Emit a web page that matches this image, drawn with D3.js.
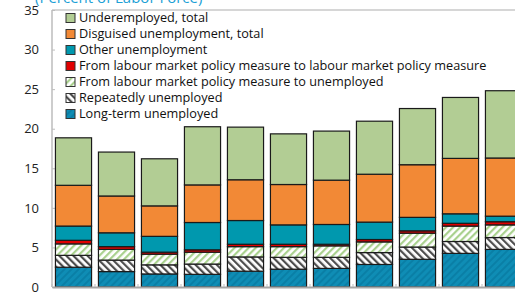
<!DOCTYPE html>
<html lang="en">
<head>
<meta charset="UTF-8">
<title>Unemployment</title>
<script src="https://cdn.jsdelivr.net/npm/d3@7"></script>
<style>
  body { margin: 0; background: #fff; }
  svg { display: block; font-family: "Open Sans", sans-serif; }
</style>
</head>
<body>
<script>
    // data (bottom segment first)
    var years = ['2006', '2007', '2008', '2009', '2010', '2011', '2012', '2013', '2014', '2015', '2016'];
    var longTerm     = [2.5, 1.95, 1.65, 1.6, 2.0, 2.25, 2.35, 2.85, 3.5, 4.25, 4.75];
    var repeated     = [1.5, 1.45, 1.15, 1.3, 1.8, 1.5, 1.4, 1.5, 1.55, 1.5, 1.5];
    var lmpToUnemp   = [1.45, 1.35, 1.35, 1.5, 1.3, 1.35, 1.45, 1.35, 1.75, 1.95, 1.6];
    var lmpToLmp     = [0.45, 0.35, 0.25, 0.3, 0.3, 0.3, 0.2, 0.3, 0.3, 0.35, 0.4];
    var other        = [1.8, 1.75, 2.0, 3.45, 3.0, 2.45, 2.5, 2.2, 1.7, 1.2, 0.7];
    var disguised    = [5.15, 4.65, 3.85, 4.75, 5.15, 5.1, 5.6, 6.05, 6.65, 7.0, 7.35];
    var underemp     = [6.0, 5.55, 5.95, 7.35, 6.65, 6.4, 6.2, 6.7, 7.1, 7.7, 8.5];
    var yTicks = [0, 5, 10, 15, 20, 25, 30, 35];

    var series = [
        { key: 'lt',  name: 'Long-term unemployed', values: longTerm, fill: 'url(#patLT)' },
        { key: 'rep', name: 'Repeatedly unemployed', values: repeated, fill: 'url(#patRep)' },
        { key: 'lu',  name: 'From labour market policy measure to unemployed', values: lmpToUnemp, fill: 'url(#patLU)' },
        { key: 'll',  name: 'From labour market policy measure to labour market policy measure', values: lmpToLmp, fill: '#e00000' },
        { key: 'oth', name: 'Other unemployment', values: other, fill: '#0098ae' },
        { key: 'dis', name: 'Disguised unemployment, total', values: disguised, fill: '#f28936' },
        { key: 'und', name: 'Underemployed, total', values: underemp, fill: '#b2cd94' }
    ];

    var table = years.map(function(yr, i) {
        var row = { year: yr };
        series.forEach(function(s) { row[s.key] = s.values[i]; });
        return row;
    });

    var W = 515, H = 304;
    // note: "top" is reserved on window, so plot edges get their own names
    var plotL = 52, plotR = 525, plotT = 10, plotB = 287;

    var svg = d3.select('body').append('svg')
        .attr('width', W)
        .attr('height', H);

    // hatch patterns
    var defs = svg.append('defs');
    function hatch(id, bg, fg, angle, w, size) {
        var p = defs.append('pattern')
            .attr('id', id)
            .attr('patternUnits', 'userSpaceOnUse')
            .attr('width', size).attr('height', size)
            .attr('patternTransform', 'rotate(' + angle + ')');
        p.append('rect').attr('width', size).attr('height', size).attr('fill', bg);
        p.append('rect').attr('width', w).attr('height', size).attr('fill', fg);
    }
    hatch('patLT', '#0f8db5', '#0a7fa6', 45, 2, 5);
    hatch('patRep', '#ffffff', '#4d4d4d', -45, 2.2, 5);
    hatch('patLU', '#ffffff', '#a9d18e', 45, 2.2, 5);

    var x = d3.scaleBand()
        .domain(years)
        .range([plotL, plotR])
        .paddingInner(0.16)
        .paddingOuter(0.08);

    var y = d3.scaleLinear()
        .domain([0, 35])
        .range([plotB, plotT]);

    // title (mostly cut off at the top edge)
    svg.append('text')
        .attr('x', 35)
        .attr('y', 3)
        .attr('fill', '#1da1d6')
        .attr('font-size', 15)
        .text('(Percent of Labor Force)');

    // plot frame
    svg.append('line')
        .attr('x1', plotL).attr('x2', plotR)
        .attr('y1', plotT).attr('y2', plotT)
        .attr('stroke', '#c8c8c8').attr('stroke-width', 1.5);
    svg.append('line')
        .attr('x1', plotL).attr('x2', plotL)
        .attr('y1', plotT).attr('y2', plotB)
        .attr('stroke', '#bdbdbd').attr('stroke-width', 1.5);

    // y axis
    var yAxis = svg.append('g')
        .attr('transform', 'translate(' + plotL + ',0)')
        .call(d3.axisLeft(y).tickValues(yTicks).tickSize(-3).tickPadding(13));
    yAxis.select('.domain').remove();
    yAxis.selectAll('line').attr('stroke', '#bdbdbd');
    yAxis.selectAll('text')
        .attr('font-size', 13)
        .attr('fill', '#222')
        .attr('font-family', '"Open Sans", sans-serif');

    // stacked bars
    var stack = d3.stack().keys(series.map(function(s) { return s.key; }));
    var layers = stack(table);

    svg.selectAll('g.layer')
        .data(layers)
        .enter().append('g')
        .attr('class', 'layer')
        .attr('fill', function(d, i) { return series[i].fill; })
        .selectAll('rect')
        .data(function(d) { return d; })
        .enter().append('rect')
        .attr('x', function(d) { return x(d.data.year); })
        .attr('width', x.bandwidth())
        .attr('y', function(d) { return y(d[1]); })
        .attr('height', function(d) { return y(d[0]) - y(d[1]); })
        .attr('stroke', '#1a1a1a')
        .attr('stroke-width', 1.2);

    // x axis
    var xAxis = svg.append('g')
        .attr('transform', 'translate(0,' + plotB + ')')
        .call(d3.axisBottom(x).tickSize(0).tickPadding(19));
    xAxis.select('.domain').attr('stroke', '#a6a6a6').attr('stroke-width', 2);
    xAxis.selectAll('text')
        .attr('font-size', 13)
        .attr('fill', '#222')
        .attr('font-family', '"Open Sans", sans-serif');

    // small category separators on the x axis
    svg.selectAll('line.sep')
        .data(d3.range(years.length + 1))
        .enter().append('line')
        .attr('class', 'sep')
        .attr('x1', function(i) { return plotL + i * x.step(); })
        .attr('x2', function(i) { return plotL + i * x.step(); })
        .attr('y1', plotB - 3).attr('y2', plotB)
        .attr('stroke', '#bdbdbd');

    // legend, top item first
    var legend = svg.append('g')
        .attr('transform', 'translate(66,18)');
    var items = legend.selectAll('g')
        .data(series.slice().reverse())
        .enter().append('g')
        .attr('transform', function(d, i) { return 'translate(0,' + (i * 16) + ')'; });
    items.append('rect')
        .attr('x', 0).attr('y', -4.5)
        .attr('width', 9).attr('height', 9)
        .attr('fill', function(d) { return d.fill; })
        .attr('stroke', '#333')
        .attr('stroke-width', 1);
    items.append('text')
        .attr('x', 13)
        .attr('y', 0)
        .attr('dy', '0.35em')
        .attr('font-size', 12.7)
        .attr('fill', '#111')
        .text(function(d) { return d.name; });
</script>
</body>
</html>
